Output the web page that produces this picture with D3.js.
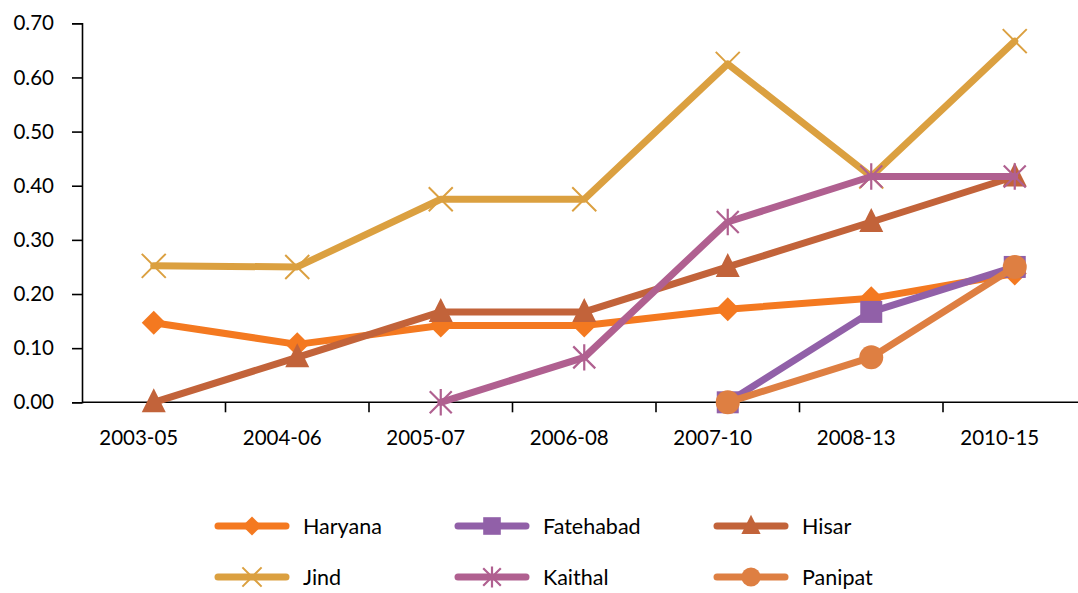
<!DOCTYPE html>
<html>
<head>
<meta charset="utf-8">
<script src="https://cdn.jsdelivr.net/npm/d3@7/dist/d3.min.js"></script>
<style>
  html, body { margin: 0; padding: 0; background: #fff; }
  svg { display: block; font-family: Lato, "Open Sans", sans-serif; }
</style>
</head>
<body>
<svg id="chart" width="1078" height="593"></svg>
<script>
// Periods on the x axis
const periods = ["2003-05", "2004-06", "2005-07", "2006-08", "2007-10", "2008-13", "2010-15"];

// One array per district (null = no value for that period)
const haryana   = [0.147, 0.107, 0.142, 0.142, 0.172, 0.192, 0.238];
const fatehabad = [null, null, null, null, 0.000, 0.167, 0.250];
const hisar     = [0.000, 0.083, 0.167, 0.167, 0.250, 0.333, 0.417];
const jind      = [0.252, 0.250, 0.375, 0.375, 0.625, 0.417, 0.667];
const kaithal   = [null, null, 0.000, 0.083, 0.333, 0.417, 0.417];
const panipat   = [null, null, null, null, 0.000, 0.083, 0.250];

const yTicks = [0, 0.1, 0.2, 0.3, 0.4, 0.5, 0.6, 0.7];

const series = [
  { name: "Haryana",   values: haryana,   color: "#F47920", marker: "diamond" },
  { name: "Fatehabad", values: fatehabad, color: "#9160A8", marker: "square" },
  { name: "Hisar",     values: hisar,     color: "#C2633A", marker: "triangle" },
  { name: "Jind",      values: jind,      color: "#DBA040", marker: "x" },
  { name: "Kaithal",   values: kaithal,   color: "#B06090", marker: "asterisk" },
  { name: "Panipat",   values: panipat,   color: "#DE7F42", marker: "circle" }
];

const svg = d3.select("#chart");
const plotLeft = 82, plotRight = 1086.5, plotTop = 23.3, plotBottom = 402.3;

const x = d3.scaleBand().domain(periods).range([plotLeft, plotRight]);
const y = d3.scaleLinear().domain([0, 0.7]).range([plotBottom, plotTop]);
const cx = d => x(d) + x.bandwidth() / 2;

// Axes
const yAxis = d3.axisLeft(y).tickValues(yTicks).tickFormat(d3.format(".2f")).tickSize(10).tickPadding(18);
const gy = svg.append("g").attr("transform", `translate(${plotLeft},0)`).call(yAxis);
gy.select(".domain").attr("stroke", "#000").attr("stroke-width", 1.6);
gy.selectAll(".tick line").attr("stroke", "#000").attr("stroke-width", 1.6);
gy.selectAll(".tick text").attr("font-size", 20.5).attr("fill", "#000")
  .attr("font-family", "Lato, 'Open Sans', sans-serif");

const xAxis = d3.axisBottom(x).tickSize(0).tickPadding(0);
const gx = svg.append("g").attr("transform", `translate(0,${plotBottom})`).call(xAxis);
gx.select(".domain").remove();
gx.append("line").attr("x1", plotLeft).attr("x2", plotRight).attr("stroke", "#000").attr("stroke-width", 1.6);
// tick marks sit at the category boundaries
gx.selectAll(".boundary").data(periods)
  .enter().append("line")
  .attr("x1", (d, i) => plotLeft + (i + 1) * x.step())
  .attr("x2", (d, i) => plotLeft + (i + 1) * x.step())
  .attr("y1", 0).attr("y2", 10)
  .attr("stroke", "#000").attr("stroke-width", 1.6);
gx.selectAll(".tick text")
  .attr("font-size", 20.5).attr("fill", "#000").attr("dy", 0)
  .attr("y", 43).attr("dx", -15)
  .attr("font-family", "Lato, 'Open Sans', sans-serif");

// Marker drawing
function drawMarker(g, type, color, px, py, scale) {
  const s = scale || 1;
  if (type === "diamond") {
    const r = 12 * s;
    g.append("path").attr("d", `M${px},${py - r}L${px + r},${py}L${px},${py + r}L${px - r},${py}Z`).attr("fill", color);
  } else if (type === "square") {
    const h = 11 * s;
    g.append("rect").attr("x", px - h).attr("y", py - h).attr("width", 2 * h).attr("height", 2 * h).attr("fill", color);
  } else if (type === "triangle") {
    const w = 12 * s, hUp = 14 * s, hDn = 10 * s;
    g.append("path").attr("d", `M${px},${py - hUp}L${px + w},${py + hDn}L${px - w},${py + hDn}Z`).attr("fill", color);
  } else if (type === "circle") {
    g.append("circle").attr("cx", px).attr("cy", py).attr("r", 12 * s).attr("fill", color);
  } else if (type === "x") {
    const r = 12 * s;
    g.append("path").attr("d", `M${px - r},${py - r}L${px + r},${py + r}M${px - r},${py + r}L${px + r},${py - r}`)
      .attr("stroke", color).attr("stroke-width", 2).attr("fill", "none");
  } else if (type === "asterisk") {
    const r = 11 * s;
    g.append("path").attr("d", `M${px - r},${py - r}L${px + r},${py + r}M${px - r},${py + r}L${px + r},${py - r}M${px},${py - r * 1.2}L${px},${py + r * 1.2}`)
      .attr("stroke", color).attr("stroke-width", 2.2).attr("fill", "none");
  }
}

const line = d3.line()
  .defined(d => d.v !== null)
  .x(d => cx(d.p))
  .y(d => y(d.v));

series.forEach(s => {
  const pts = periods.map((p, i) => ({ p, v: s.values[i] }));
  const g = svg.append("g");
  g.append("path").datum(pts).attr("d", line)
    .attr("fill", "none").attr("stroke", s.color).attr("stroke-width", 7)
    .attr("stroke-linejoin", "round").attr("stroke-linecap", "round");
  pts.filter(d => d.v !== null).forEach(d => drawMarker(g, s.marker, s.color, cx(d.p), y(d.v), 1));
});

// Legend
const legCols = [218, 458, 717];
const legRows = [526, 577];
series.forEach((s, i) => {
  const lx = legCols[i % 3], ly = legRows[Math.floor(i / 3)];
  const g = svg.append("g");
  g.append("line").attr("x1", lx).attr("x2", lx + 68).attr("y1", ly).attr("y2", ly)
    .attr("stroke", s.color).attr("stroke-width", 7).attr("stroke-linecap", "round");
  drawMarker(g, s.marker, s.color, lx + 34, ly, 0.8);
  g.append("text").attr("x", lx + 85).attr("y", ly + 7.5).attr("font-size", 21.5).attr("fill", "#000")
    .text(s.name);
});
</script>
</body>
</html>
